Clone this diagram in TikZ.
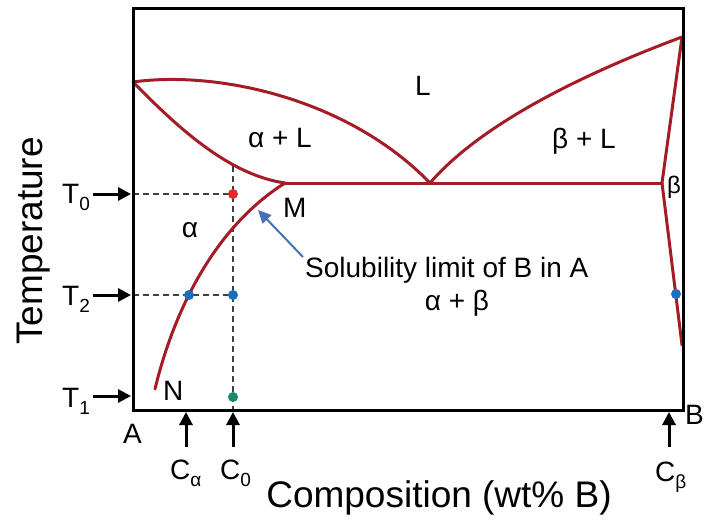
\documentclass[tikz,border=0pt]{standalone}
\usepackage{fontspec}
\setmainfont{Liberation Sans}
\usetikzlibrary{arrows.meta}
\definecolor{phasered}{RGB}{165,28,38}
\definecolor{dotred}{RGB}{230,40,45}
\definecolor{dotblue}{RGB}{25,110,195}
\definecolor{dotgreen}{RGB}{20,140,105}
\definecolor{pointblue}{RGB}{70,112,185}
\newcommand\subs[1]{\raisebox{-0.28em}{\fontsize{19}{19}\selectfont #1}}
\tikzset{
  lbl/.style={font=\fontsize{28}{30}\selectfont, inner sep=0pt},
  big/.style={font=\fontsize{37}{40}\selectfont, inner sep=0pt},
  phase/.style={draw=phasered, line width=3pt, line join=round, line cap=round},
  dashline/.style={draw=black!75, line width=1.1pt, dash pattern=on 6pt off 4pt},
  tarrow/.style={draw=black, line width=3pt, -{Triangle[length=13pt,width=13pt]}},
  bluearrow/.style={draw=pointblue, line width=2pt, -{Triangle[length=13pt,width=12pt]}},
  frame/.style={draw=black, line width=3pt}
}
\begin{document}
\begin{tikzpicture}[x=1pt,y=-1pt]
\useasboundingbox (0,0) rectangle (707,523);
% key points
\coordinate (TL) at (133,8);
\coordinate (BR) at (683,410);
\coordinate (P) at (133,82);
\coordinate (M) at (285,183);
\coordinate (E) at (430,183);
\coordinate (Q) at (662,183);
\coordinate (R) at (682,37);
\coordinate (S) at (682,345);
\coordinate (N) at (155,389);
% dashed guide lines
\coordinate (d0) at (133,194);
\coordinate (d2) at (133,295);
\coordinate (vtop) at (233,166);
\coordinate (vbot) at (233,410);
\coordinate (red0) at (233,194);
\coordinate (blue2) at (233,295);
\coordinate (bluea) at (189,295);
\coordinate (green1) at (233,397);
\coordinate (blueb) at (676,294);
\draw[dashline] (d0) -- (red0);
\draw[dashline] (d2) -- (blue2);
\draw[dashline] (vtop) -- (vbot);
% phase boundaries
\draw[phase] (P) .. controls (220,70) and (350,100) .. (E);
\draw[phase] (P) .. controls (180,130) and (230,175) .. (M);
\draw[phase] (M) -- (Q);
\draw[phase] (E) .. controls (480,125) and (580,75) .. (R);
\draw[phase] (R) -- (Q) -- (S);
\draw[phase] (M) .. controls (215,227) and (174,310) .. (N);
% dots
\fill[dotred] (red0) circle (5);
\fill[dotblue] (blue2) circle (5);
\fill[dotblue] (bluea) circle (5);
\fill[dotgreen] (green1) circle (5);
\fill[dotblue] (blueb) circle (5);
% frame
\draw[frame] (TL) rectangle (BR);
% temperature arrows
\coordinate (a0s) at (93,194); \coordinate (a0e) at (131,194);
\coordinate (a2s) at (93,295); \coordinate (a2e) at (131,295);
\coordinate (a1s) at (93,396); \coordinate (a1e) at (131,396);
\draw[tarrow] (a0s) -- (a0e);
\draw[tarrow] (a2s) -- (a2e);
\draw[tarrow] (a1s) -- (a1e);
\node[lbl, anchor=base west] (t0) at (62,203) {T\subs{0}};
\node[lbl, anchor=base west] (t2) at (62,305) {T\subs{2}};
\node[lbl, anchor=base west] (t1) at (62,407) {T\subs{1}};
% composition arrows
\coordinate (cas) at (186,447); \coordinate (cae) at (186,412);
\coordinate (c0s) at (233,447); \coordinate (c0e) at (233,412);
\coordinate (cbs) at (669,447); \coordinate (cbe) at (669,412);
\draw[tarrow] (cas) -- (cae);
\draw[tarrow] (c0s) -- (c0e);
\draw[tarrow] (cbs) -- (cbe);
\node[lbl, anchor=base west] (ca) at (170,479) {C\subs{α}};
\node[lbl, anchor=base west] (c0) at (220,479) {C\subs{0}};
\node[lbl, anchor=base west] (cb) at (655,481) {C\subs{β}};
\node[lbl, anchor=base west] (A) at (123,443) {A};
\node[lbl, anchor=base west] (B) at (685,424) {B};
% axis titles
\node[big, rotate=90, anchor=base] (temp) at (42,241) {Temperature};
\node[big, anchor=base] (comp) at (439,507) {Composition (wt\% B)};
% region labels
\node[lbl, anchor=base] (L) at (423,95) {L};
\node[lbl, anchor=base] (aL) at (280,147) {α + L};
\node[lbl, anchor=base] (bL) at (584,148) {β + L};
\node[lbl, anchor=base] (al) at (190,237) {α};
\node[lbl, anchor=base] (ab) at (457,310) {α + β};
\node[lbl, anchor=base west] (Mlab) at (283,217) {M};
\node[lbl, anchor=base west] (Nlab) at (163,400) {N};
\node[font=\fontsize{24}{26}\selectfont, inner sep=0pt, anchor=base west] (be) at (667,193) {β};
\node[lbl, anchor=base west] (sol) at (305,277) {Solubility limit of B in A};
\coordinate (arrtip) at (258,210);
\coordinate (arrtail) at (303,257);
\draw[bluearrow] (arrtail) -- (arrtip);
\end{tikzpicture}
\end{document}
